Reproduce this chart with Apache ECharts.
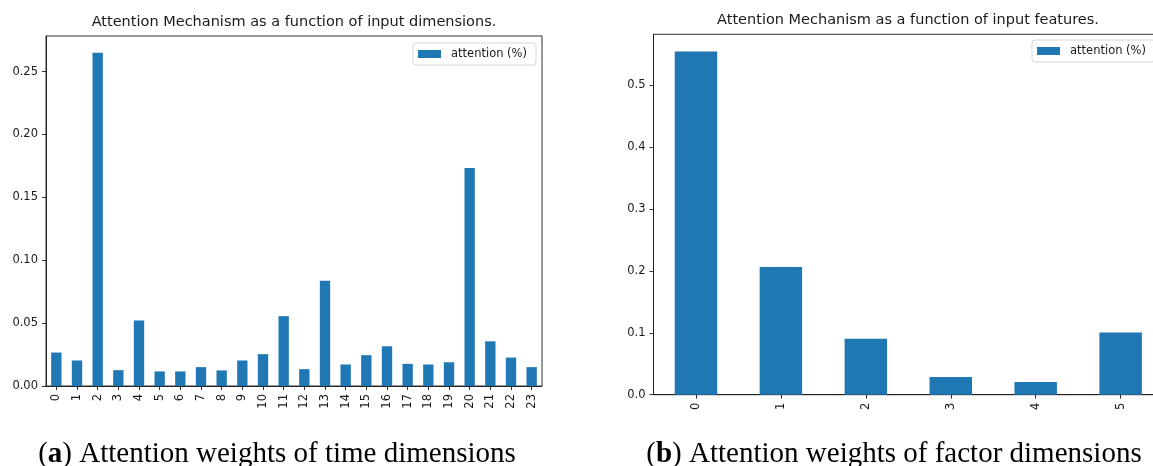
<!DOCTYPE html>
<html>
<head>
<meta charset="utf-8">
<script src="https://cdn.jsdelivr.net/npm/echarts@6/dist/echarts.min.js"></script>
<style>
  html, body { margin: 0; padding: 0; background: #fff; overflow: hidden; }
  /* the right-hand panel runs slightly past the page edge */
  #chart { width: 1175px; height: 466px; }
</style>
</head>
<body>
<div id="chart"></div>
<script>
// Attention weights per time step (hours 0..23)
const timeCategories = ['0','1','2','3','4','5','6','7','8','9','10','11','12','13','14','15','16','17','18','19','20','21','22','23'];
const timeAttention = [0.0266, 0.0203, 0.2650, 0.0126, 0.0521, 0.0116, 0.0116, 0.0150, 0.0124, 0.0203, 0.0253, 0.0555,
                       0.0134, 0.0837, 0.0171, 0.0245, 0.0316, 0.0176, 0.0171, 0.0189, 0.1733, 0.0355, 0.0226, 0.0150];

// Attention weights per input feature
const featureCategories = ['0','1','2','3','4','5'];
const featureAttention = [0.555, 0.2065, 0.0903, 0.0286, 0.0205, 0.1005];

// Tick values on the two value axes
const timeTicks = [0, 0.05, 0.10, 0.15, 0.20, 0.25];
const featureTicks = [0, 0.1, 0.2, 0.3, 0.4, 0.5];

const seriesName = 'attention (%)';
const titleTime = 'Attention Mechanism as a function of input dimensions.';
const titleFeature = 'Attention Mechanism as a function of input features.';
const captionTime = ') Attention weights of time dimensions';
const captionFeature = ') Attention weights of factor dimensions';

const BAR = '#1f77b4';
const INK = '#1a1a1a';
const SANS = 'DejaVu Sans';
const TICK_FS = 11.5;
const TITLE_FS = 14.5;

// axis headroom like matplotlib's 5% margin above the tallest bar
const timeMax = Math.max(...timeAttention) * 1.05;
const featureMax = Math.max(...featureAttention) * 1.05;

function valueAxis(gridIndex, max, ticks, decimals) {
  return {
    type: 'value', gridIndex, min: 0, max,
    splitLine: { show: false },
    axisLine: { show: true, lineStyle: { color: INK, width: 0.9 } },
    axisTick: { show: true, length: 4, lineStyle: { color: INK, width: 0.9 }, customValues: ticks },
    axisLabel: {
      color: INK, fontFamily: SANS, fontSize: TICK_FS, margin: 8,
      customValues: ticks,
      formatter: v => v.toFixed(decimals)
    }
  };
}

function categoryAxis(gridIndex, data) {
  return {
    type: 'category', gridIndex, data, boundaryGap: true,
    axisLine: { show: true, lineStyle: { color: INK, width: 0.9 } },
    axisTick: { show: true, alignWithLabel: true, length: 4, lineStyle: { color: INK, width: 0.9 } },
    axisLabel: { color: INK, fontFamily: SANS, fontSize: TICK_FS, rotate: 90, margin: 8, interval: 0 }
  };
}

function legendAt(left, top) {
  return {
    data: [seriesName], left, top, orient: 'horizontal',
    padding: [5, 9, 5, 5],
    itemWidth: 23, itemHeight: 8, icon: 'rect',
    backgroundColor: '#fff', borderColor: '#d6d6d6', borderWidth: 1, borderRadius: 3,
    textStyle: { color: INK, fontFamily: SANS, fontSize: TICK_FS, padding: [0, 0, 0, 5] },
    selectedMode: false
  };
}

function caption(left, letter, rest) {
  return {
    text: '(' + '{b|' + letter + '}' + rest, left, top: 440, textAlign: 'center', padding: 0,
    textStyle: {
      fontFamily: 'Liberation Serif', fontSize: 29, fontWeight: 'normal', color: '#000',
      rich: { b: { fontFamily: 'Liberation Serif', fontSize: 29, fontWeight: 'bold', color: '#000' } }
    }
  };
}

const chart = echarts.init(document.getElementById('chart'), null, { renderer: 'canvas' });
chart.setOption({
  animation: false,
  backgroundColor: '#fff',
  title: [
    { text: titleTime, left: 294, top: 15, textAlign: 'center', padding: 0,
      textStyle: { fontFamily: SANS, fontSize: TITLE_FS, fontWeight: 'normal', color: INK } },
    { text: titleFeature, left: 908, top: 13, textAlign: 'center', padding: 0,
      textStyle: { fontFamily: SANS, fontSize: TITLE_FS, fontWeight: 'normal', color: INK } },
    caption(277, 'a', captionTime),
    caption(894, 'b', captionFeature)
  ],
  legend: [legendAt(413, 43), legendAt(1032, 40)],
  grid: [
    { left: 46, top: 36, width: 496, height: 350, show: true, borderColor: INK, borderWidth: 0.9, backgroundColor: 'transparent' },
    { left: 653.5, top: 34.3, width: 509.6, height: 360.4, show: true, borderColor: INK, borderWidth: 0.9, backgroundColor: 'transparent' }
  ],
  xAxis: [categoryAxis(0, timeCategories), categoryAxis(1, featureCategories)],
  yAxis: [valueAxis(0, timeMax, timeTicks, 2), valueAxis(1, featureMax, featureTicks, 1)],
  series: [
    { name: seriesName, type: 'bar', xAxisIndex: 0, yAxisIndex: 0, data: timeAttention, barWidth: '50%',
      itemStyle: { color: BAR } },
    { name: seriesName, type: 'bar', xAxisIndex: 1, yAxisIndex: 1, data: featureAttention, barWidth: '50%',
      itemStyle: { color: BAR } }
  ]
});
</script>
</body>
</html>
